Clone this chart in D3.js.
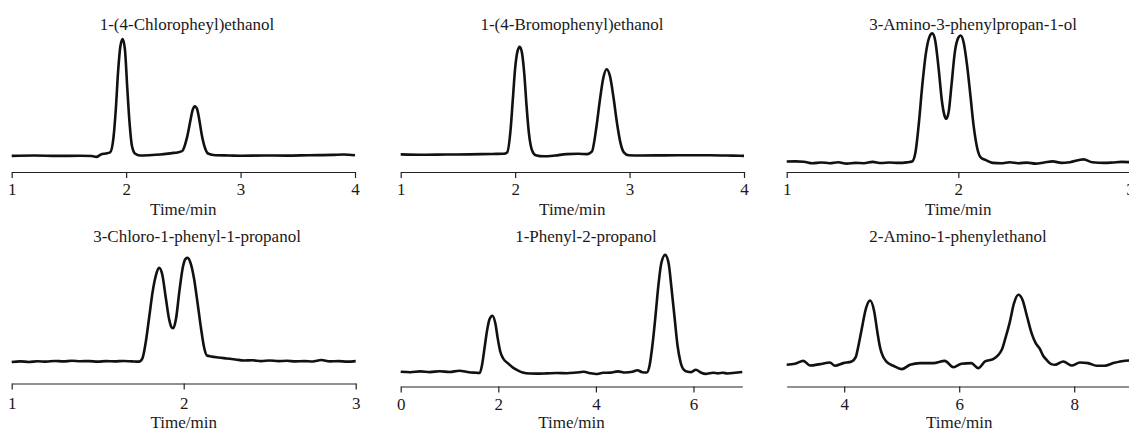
<!DOCTYPE html>
<html>
<head>
<meta charset="utf-8">
<script src="https://cdn.jsdelivr.net/npm/d3@7"></script>
<style>
  body { margin: 0; background: #fff; }
  svg { display: block; }
  text { font-family: "Liberation Serif", "Times New Roman", serif; fill: #1a1a1a; }
</style>
</head>
<body>
<script>
const w = 1129;
const h = 432;

// compound names (panel titles)
const titles = [
  "1-(4-Chloropheyl)ethanol",
  "1-(4-Bromophenyl)ethanol",
  "3-Amino-3-phenylpropan-1-ol",
  "3-Chloro-1-phenyl-1-propanol",
  "1-Phenyl-2-propanol",
  "2-Amino-1-phenylethanol"
];

// x domains (min) and tick labels
const domains = [[1, 4], [1, 4], [1, 3], [1, 3], [0, 7], [3, 9]];
const tickLabels = [[1, 2, 3, 4], [1, 2, 3, 4], [1, 2, 3], [1, 2, 3], [0, 2, 4, 6], [4, 6, 8]];

// chromatogram traces: [time/min, signal]
const chlorophenylEthanol = [
  [1.00, 11.5], [1.2, 11.8], [1.4, 11.5], [1.6, 11.6], [1.7, 11.4], [1.74, 10.8], [1.78, 12.5],
  [1.82, 13.2], [1.86, 14], [1.89, 25], [1.91, 45], [1.93, 72], [1.95, 90], [1.97, 95],
  [1.99, 87], [2.01, 60], [2.03, 35], [2.05, 19], [2.08, 13], [2.12, 11.8], [2.2, 12],
  [2.3, 12.5], [2.4, 13.5], [2.45, 14], [2.49, 15], [2.53, 24], [2.56, 36], [2.58, 44],
  [2.60, 47], [2.62, 45], [2.64, 37], [2.66, 27], [2.69, 17], [2.72, 13], [2.78, 12],
  [2.9, 11.8], [3.0, 11.6], [3.2, 11.8], [3.4, 11.7], [3.6, 12], [3.8, 12.2], [3.9, 12.5], [4.0, 12]
];

const bromophenylEthanol = [
  [1.0, 12.6], [1.2, 12.3], [1.4, 12.5], [1.6, 12.6], [1.8, 12.9], [1.9, 13], [1.93, 14],
  [1.96, 30], [1.98, 52], [2.00, 74], [2.02, 86], [2.04, 89.5], [2.06, 85], [2.08, 70],
  [2.10, 47], [2.12, 28], [2.15, 15], [2.18, 12], [2.25, 11.2], [2.35, 11.8], [2.45, 12.8],
  [2.55, 13], [2.63, 12.8], [2.67, 14.5], [2.71, 32], [2.74, 51], [2.77, 67], [2.80, 73.4],
  [2.83, 68], [2.86, 53], [2.89, 35], [2.92, 21], [2.95, 14], [2.99, 12], [3.1, 11.8],
  [3.3, 11.9], [3.5, 12], [3.7, 12], [3.9, 11.7], [4.0, 11.5]
];

const aminoPhenylpropanol = [
  [1.00, 7.5], [1.05, 7.6], [1.1, 7.3], [1.15, 6.2], [1.2, 6.8], [1.25, 6.3], [1.3, 7.0],
  [1.35, 6.0], [1.4, 6.5], [1.45, 6.3], [1.5, 7.2], [1.55, 6.4], [1.6, 6.8], [1.65, 6.5],
  [1.7, 6.9], [1.73, 7.5], [1.75, 14], [1.77, 35], [1.79, 62], [1.81, 84], [1.83, 96],
  [1.848, 99], [1.865, 94], [1.885, 74], [1.905, 50], [1.92, 40], [1.93, 38], [1.945, 44],
  [1.96, 62], [1.98, 86], [2.00, 96], [2.013, 97.5], [2.03, 93], [2.05, 77], [2.07, 55],
  [2.09, 32], [2.11, 17], [2.13, 10.5], [2.16, 8.5], [2.2, 6.5], [2.25, 6.2], [2.3, 7.0],
  [2.35, 6.3], [2.4, 6.7], [2.45, 6.0], [2.5, 6.8], [2.55, 7.6], [2.6, 6.5], [2.65, 7.0],
  [2.73, 9.0], [2.78, 7.0], [2.85, 6.5], [2.9, 6.8], [2.95, 7.2], [3.0, 7.0]
];

const chloroPhenylPropanol = [
  [1.00, 15.3], [1.05, 15.8], [1.1, 15.4], [1.15, 15.9], [1.2, 15.6], [1.25, 16.1], [1.3, 15.8],
  [1.35, 16.2], [1.4, 15.9], [1.45, 16.0], [1.5, 15.6], [1.55, 16.0], [1.6, 15.8], [1.65, 16.1],
  [1.7, 15.8], [1.74, 15.6], [1.76, 18], [1.78, 30], [1.80, 48], [1.82, 66], [1.84, 78],
  [1.857, 82.6], [1.875, 78], [1.895, 62], [1.915, 46], [1.93, 40], [1.94, 39.5], [1.955, 46],
  [1.975, 66], [1.995, 83], [2.01, 89], [2.023, 89.7], [2.04, 86], [2.06, 75], [2.08, 58],
  [2.10, 40], [2.12, 25], [2.135, 20], [2.16, 19.3], [2.2, 18.6], [2.25, 17.9], [2.3, 17.2],
  [2.35, 16.4], [2.4, 16.6], [2.45, 16.0], [2.5, 16.4], [2.55, 16.0], [2.6, 16.2], [2.65, 15.8],
  [2.7, 16.0], [2.75, 15.7], [2.8, 16.8], [2.85, 15.8], [2.9, 16.0], [2.95, 15.6], [3.0, 16.0]
];

const phenylPropanol = [
  [0.0, 10.5], [0.2, 10.2], [0.4, 10.8], [0.6, 10.3], [0.8, 10.9], [1.0, 10.4], [1.2, 11.2],
  [1.4, 10.2], [1.55, 9.8], [1.62, 9.6], [1.67, 16], [1.72, 28], [1.77, 40], [1.82, 48],
  [1.88, 50.5], [1.94, 45], [1.99, 34], [2.04, 25], [2.1, 20], [2.2, 16.5], [2.3, 13.5],
  [2.4, 11.5], [2.5, 10.0], [2.65, 9.3], [2.8, 9.2], [3.0, 9.4], [3.2, 9.6], [3.4, 9.5],
  [3.6, 10.0], [3.75, 10.5], [3.9, 9.4], [4.0, 8.9], [4.15, 9.8], [4.3, 9.9], [4.45, 10.8],
  [4.6, 10.0], [4.75, 10.5], [4.85, 11.6], [4.95, 10.2], [5.04, 10.0], [5.1, 15], [5.16, 30],
  [5.22, 50], [5.28, 72], [5.34, 88], [5.42, 94], [5.49, 88], [5.55, 70], [5.61, 50],
  [5.67, 30], [5.73, 18], [5.8, 12], [5.88, 10.5], [5.95, 10.3], [6.05, 12.0], [6.15, 10.0],
  [6.25, 9.0], [6.4, 9.8], [6.5, 9.4], [6.6, 9.8], [6.7, 9.3], [6.85, 9.8], [7.0, 10.4]
];

const aminoPhenylethanol = [
  [3.0, 15.5], [3.145, 16.2], [3.29, 18.3], [3.405, 15.0], [3.58, 16], [3.75, 17.1], [3.84, 14.8],
  [3.985, 16.7], [4.13, 17.9], [4.2, 21], [4.245, 28.6], [4.3, 40], [4.38, 56], [4.45, 61.4],
  [4.52, 54], [4.58, 38], [4.62, 28.6], [4.65, 24], [4.73, 17.9], [4.855, 14.8], [5.0, 12.4],
  [5.145, 15.5], [5.32, 16.7], [5.55, 16.7], [5.75, 18.3], [5.9, 13.8], [6.04, 16.2], [6.21, 16.7],
  [6.33, 13.1], [6.45, 17.9], [6.59, 19.5], [6.74, 26.2], [6.8, 34], [6.88, 46], [6.95, 59],
  [7.03, 65.5], [7.1, 62], [7.18, 50], [7.26, 38], [7.33, 31], [7.4, 27], [7.46, 22],
  [7.52, 19], [7.6, 16], [7.665, 15.5], [7.81, 17.9], [7.955, 15], [8.1, 17.1], [8.24, 16.7],
  [8.39, 14.8], [8.53, 14.8], [8.68, 16.7], [8.8, 17.9], [8.95, 18.6], [9.0, 18.6]
];

const traces = [chlorophenylEthanol, bromophenylEthanol, aminoPhenylpropanol,
                chloroPhenylPropanol, phenylPropanol, aminoPhenylethanol];

// panel frames: axis ends, axis y, title centre, label baselines
const frames = [
  { x0: 11.7,  x1: 355,    ay: 172,   tx: 187, ty: 30,  ly: 195, my: 215 },
  { x0: 400.7, x1: 744,    ay: 172,   tx: 572, ty: 30,  ly: 195, my: 215 },
  { x0: 786.7, x1: 1130,   ay: 172,   tx: 973, ty: 30,  ly: 195, my: 215 },
  { x0: 11.7,  x1: 355.7,  ay: 383.5, tx: 197, ty: 242, ly: 409, my: 428 },
  { x0: 400.7, x1: 742.3,  ay: 386.5, tx: 586, ty: 242, ly: 410, my: 428 },
  { x0: 786.7, x1: 1131.7, ay: 386.5, tx: 958, ty: 242, ly: 410, my: 428 }
];

const svg = d3.select("body")
              .append("svg")
              .attr("width", w)
              .attr("height", h);

frames.forEach((f, i) => {

    const xScale = d3.scaleLinear()
                     .domain(domains[i])
                     .range([f.x0, f.x1]);

    const yScale = d3.scaleLinear()
                     .domain([0, 100])
                     .range([f.ay, f.ay - 140]);

    const line = d3.line()
                   .x(d => xScale(d[0]))
                   .y(d => yScale(d[1]))
                   .curve(d3.curveMonotoneX);

    svg.append("path")
       .datum(traces[i])
       .attr("d", line)
       .attr("fill", "none")
       .attr("stroke", "#111")
       .attr("stroke-width", 2.6)
       .attr("stroke-linejoin", "round");

    const xAxis = d3.axisBottom(xScale)
                    .tickValues(tickLabels[i])
                    .tickFormat(d3.format("d"))
                    .tickSize(6)
                    .tickSizeOuter(0);

    const g = svg.append("g")
       .attr("transform", "translate(0," + f.ay + ")")
       .call(xAxis);

    g.select(".domain").attr("stroke", "#222").attr("stroke-width", 1.2);
    g.selectAll(".tick line").attr("stroke", "#222").attr("stroke-width", 1.2);
    g.selectAll(".tick text")
     .attr("dy", null)
     .attr("y", f.ly - f.ay)
     .style("font-family", "Liberation Serif, serif")
     .style("font-size", "17px")
     .attr("fill", "#1a1a1a");

    // x axis title sits under the middle of the axis
    svg.append("text")
       .attr("x", xScale((domains[i][0] + domains[i][1]) / 2))
       .attr("y", f.my)
       .attr("text-anchor", "middle")
       .style("font-size", "17px")
       .text("Time/min");

    svg.append("text")
       .attr("x", f.tx)
       .attr("y", f.ty)
       .attr("text-anchor", "middle")
       .style("font-size", "17px")
       .text(titles[i]);
});
</script>
</body>
</html>
